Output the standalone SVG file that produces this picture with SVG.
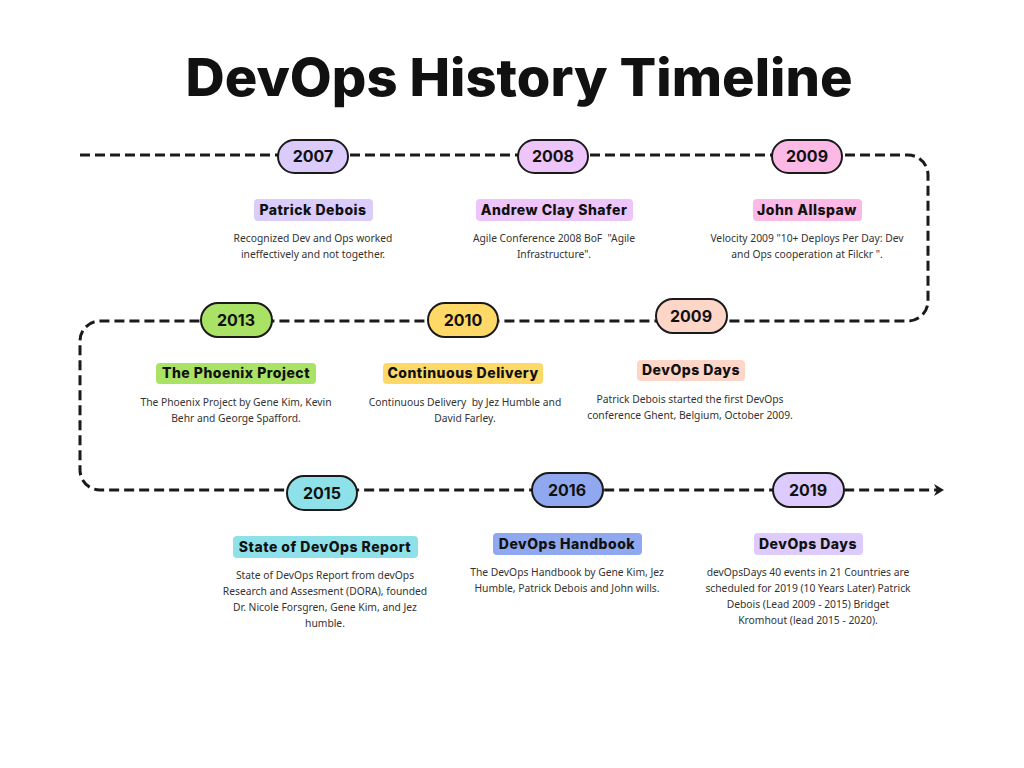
<svg xmlns="http://www.w3.org/2000/svg" width="1024" height="768" viewBox="0 0 1024 768">
<style>
.title{font-family:Inter,"Liberation Sans",sans-serif;font-weight:800;font-size:52px;fill:#111;text-anchor:middle}
.yr{font-family:Inter,"Liberation Sans",sans-serif;font-weight:700;font-size:16px;fill:#111;text-anchor:middle}
.pill{stroke:#1a1a1a;stroke-width:2}
.lbl{font-family:Inter,"Liberation Sans",sans-serif;font-weight:800;font-size:14px;letter-spacing:0.5px;fill:#111;text-anchor:middle}
.desc{font-family:"Noto Sans","Liberation Sans",sans-serif;font-size:10.3px;fill:#333;text-anchor:middle;white-space:pre}
.line{fill:none;stroke:#1a1a1a;stroke-width:3;stroke-dasharray:10 5}
</style>
<defs>
<marker id="arr" markerWidth="11" markerHeight="12" refX="4" refY="6" orient="auto" markerUnits="userSpaceOnUse">
<path d="M0,0 L10,6 L0,12 L3,6 Z" fill="#1a1a1a"/>
</marker>
</defs>
<rect width="1024" height="768" fill="#fff"/>
<text class="title" x="519" y="96" textLength="667" lengthAdjust="spacingAndGlyphs">DevOps History Timeline</text>

<g id="connectors">
<path class="line" d="M80,155 H908 A20,20 0 0 1 928,175 V301 A20,20 0 0 1 908,321 H100 A20,20 0 0 0 80,341 V470 A20,20 0 0 0 100,490 H938" marker-end="url(#arr)"/>
</g>

<g id="n2007">
<rect class="pill" x="278" y="140" width="70" height="33" rx="16.5" fill="#dacbfb"/>
<text class="yr" x="313" y="162">2007</text>
<rect x="254" y="199" width="119" height="22" rx="4" fill="#dacdfb"/>
<text class="lbl" x="313" y="215">Patrick Debois</text>
<text class="desc" x="313" y="242">Recognized Dev and Ops worked</text>
<text class="desc" x="313" y="258">ineffectively and not together.</text>
</g>

<g id="n2008">
<rect class="pill" x="518" y="140" width="70" height="33" rx="16.5" fill="#eec5fb"/>
<text class="yr" x="553" y="162">2008</text>
<rect x="476" y="199" width="157" height="22" rx="4" fill="#eec5fb"/>
<text class="lbl" x="554" y="215">Andrew Clay Shafer</text>
<text class="desc" x="554" y="242">Agile Conference 2008 BoF  "Agile</text>
<text class="desc" x="554" y="258">Infrastructure".</text>
</g>

<g id="n2009a">
<rect class="pill" x="772" y="140" width="70" height="33" rx="16.5" fill="#fdb9e5"/>
<text class="yr" x="807" y="162">2009</text>
<rect x="753" y="199" width="109" height="22" rx="4" fill="#fdb9e5"/>
<text class="lbl" x="807" y="215">John Allspaw</text>
<text class="desc" x="807" y="242">Velocity 2009 "10+ Deploys Per Day: Dev</text>
<text class="desc" x="807" y="258">and Ops cooperation at Filckr ".</text>
</g>

<g id="n2013">
<rect class="pill" x="201" y="303" width="71" height="34" rx="17" fill="#a9e264"/>
<text class="yr" x="236" y="326">2013</text>
<rect x="156" y="363" width="160" height="21" rx="4" fill="#a9e264"/>
<text class="lbl" x="236" y="378">The Phoenix Project</text>
<text class="desc" x="236" y="406">The Phoenix Project by Gene Kim, Kevin</text>
<text class="desc" x="236" y="422">Behr and George Spafford.</text>
</g>

<g id="n2010">
<rect class="pill" x="428" y="303" width="70" height="34" rx="17" fill="#fed968"/>
<text class="yr" x="463" y="326">2010</text>
<rect x="383" y="363" width="160" height="21" rx="4" fill="#fed968"/>
<text class="lbl" x="463" y="378">Continuous Delivery</text>
<text class="desc" x="465" y="406">Continuous Delivery  by Jez Humble and</text>
<text class="desc" x="465" y="422">David Farley.</text>
</g>

<g id="n2009b">
<rect class="pill" x="656" y="299" width="71" height="34" rx="17" fill="#fed6c8"/>
<text class="yr" x="691" y="322">2009</text>
<rect x="637" y="360" width="108" height="21" rx="4" fill="#fed6c8"/>
<text class="lbl" x="691" y="375">DevOps Days</text>
<text class="desc" x="690" y="403">Patrick Debois started the first DevOps</text>
<text class="desc" x="690" y="419">conference Ghent, Belgium, October 2009.</text>
</g>

<g id="n2015">
<rect class="pill" x="287" y="476" width="70" height="34" rx="17" fill="#8ee1e8"/>
<text class="yr" x="322" y="499">2015</text>
<rect x="233" y="536" width="185" height="22" rx="4" fill="#8ee1e8"/>
<text class="lbl" x="325" y="552">State of DevOps Report</text>
<text class="desc" x="325" y="579">State of DevOps Report from devOps</text>
<text class="desc" x="325" y="595">Research and Assesment (DORA), founded</text>
<text class="desc" x="325" y="611">Dr. Nicole Forsgren, Gene Kim, and Jez</text>
<text class="desc" x="325" y="627">humble.</text>
</g>

<g id="n2016">
<rect class="pill" x="532" y="473" width="71" height="34" rx="17" fill="#8fa8ef"/>
<text class="yr" x="567" y="496">2016</text>
<rect x="493" y="533" width="149" height="22" rx="4" fill="#8fa8ef"/>
<text class="lbl" x="567" y="549">DevOps Handbook</text>
<text class="desc" x="567" y="576">The DevOps Handbook by Gene Kim, Jez</text>
<text class="desc" x="567" y="592">Humble, Patrick Debois and John wills.</text>
</g>

<g id="n2019">
<rect class="pill" x="773" y="473" width="71" height="34" rx="17" fill="#dccbfc"/>
<text class="yr" x="808" y="496">2019</text>
<rect x="754" y="533" width="109" height="22" rx="4" fill="#dccbfc"/>
<text class="lbl" x="808" y="549">DevOps Days</text>
<text class="desc" x="808" y="576">devOpsDays 40 events in 21 Countries are</text>
<text class="desc" x="808" y="592">scheduled for 2019 (10 Years Later) Patrick</text>
<text class="desc" x="808" y="608">Debois (Lead 2009 - 2015) Bridget</text>
<text class="desc" x="808" y="624">Kromhout (lead 2015 - 2020).</text>
</g>
</svg>
